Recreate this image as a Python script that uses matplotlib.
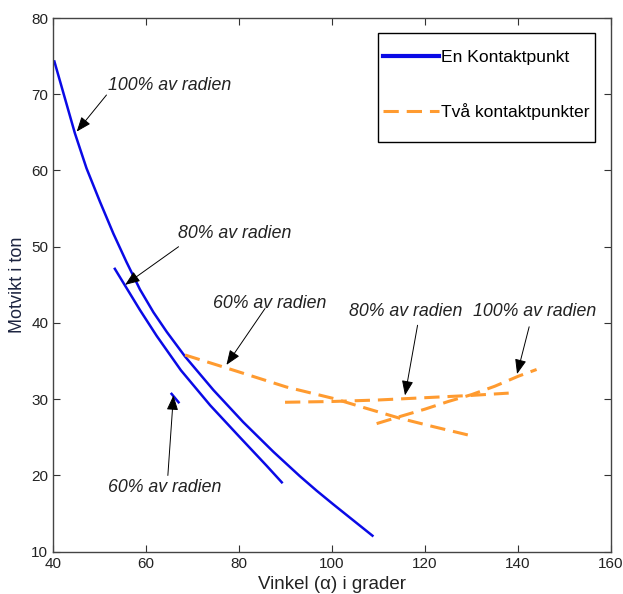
import matplotlib
matplotlib.use("Agg")
import matplotlib.pyplot as plt
from matplotlib.patches import Rectangle

plt.rcParams['font.family'] = ['Liberation Sans', 'DejaVu Sans']

# Counterweight vs angle, one contact point (blue)
one_100_x = [40.3, 44.7, 47.2, 50.1, 53.0, 55.8, 58.7, 61.6, 64.5, 68.4,
             74.5, 80.9, 87.4, 93.1, 96.7, 100.3, 104.6, 108.7]
one_100_y = [74.3, 64.9, 60.3, 55.9, 51.7, 48.0, 44.4, 41.4, 38.8, 35.6,
             31.2, 27.0, 23.1, 19.9, 18.0, 16.2, 14.1, 12.1]
one_80_x = [53.3, 55.5, 58.7, 62.3, 67.5, 73.8, 80.2, 85.9, 89.2]
one_80_y = [47.1, 44.9, 41.7, 38.3, 33.8, 29.2, 25.0, 21.3, 19.1]
one_60_x = [65.5, 67.0]
one_60_y = [30.7, 29.6]

# Counterweight vs angle, two contact points (orange)
two_60_x = [68.4, 77.3, 90.2, 100.3, 107.4, 114.6, 121.8, 130.0]
two_60_y = [35.8, 34.1, 31.6, 30.1, 28.8, 27.5, 26.4, 25.2]
two_80_x = [89.9, 100.0, 110.0, 120.0, 130.0, 138.0]
two_80_y = [29.6, 29.7, 29.9, 30.2, 30.5, 30.8]
two_100_x = [109.6, 115.0, 120.0, 125.0, 130.0, 135.0, 140.0, 144.0]
two_100_y = [26.8, 27.8, 28.7, 29.7, 30.6, 31.7, 33.0, 33.9]

# Annotations: text, arrow tail (data), arrow head (data)
notes = [
    ("100% av radien", (51.5, 69.9), (45.1, 65.1)),
    ("80% av radien", (67.0, 50.0), (55.5, 45.0)),
    ("60% av radien", (85.6, 41.9), (77.3, 34.5)),
    ("60% av radien", (64.7, 20.0), (65.9, 30.5)),
    ("80% av radien", (118.4, 39.7), (115.7, 30.5)),
    ("100% av radien", (142.4, 39.5), (139.8, 33.3)),
]
# Label anchor points in figure pixels (left edge, vertical centre)
text_pos = [
    (108, 86), (178, 233), (213, 304), (108, 488), (349, 311), (473, 311)
]

blue = '#0a0ae6'
orange = '#ff9b30'

W, H = 623, 594
AX_L, AX_R, AX_T, AX_B = 53, 611, 18, 551.7
fig = plt.figure(figsize=(W / 100, H / 100), dpi=100)
ax = fig.add_axes([AX_L / W, 1 - AX_B / H, (AX_R - AX_L) / W, (AX_B - AX_T) / H])


def ax_frac(px, py):
    return (px - AX_L) / (AX_R - AX_L), (AX_B - py) / (AX_B - AX_T)


ax.plot(one_100_x, one_100_y, color=blue, lw=1.8, label='En Kontaktpunkt',
        solid_joinstyle='round')
ax.plot(one_80_x, one_80_y, color=blue, lw=1.8, solid_joinstyle='round')
ax.plot(one_60_x, one_60_y, color=blue, lw=1.8)

dash = (0, (5, 2.6))
ax.plot(two_60_x, two_60_y, color=orange, lw=2.2, ls=dash,
        label='Två kontaktpunkter')
ax.plot(two_80_x, two_80_y, color=orange, lw=2.2, ls=dash)
ax.plot(two_100_x, two_100_y, color=orange, lw=2.2, ls=dash)

for (txt, tail, head), (px, py) in zip(notes, text_pos):
    ax.annotate('', xy=head, xytext=tail,
                arrowprops=dict(arrowstyle='-|>,head_length=0.9,head_width=0.35',
                                color='black', lw=0.7, shrinkA=0, shrinkB=0))
    fig.text(px / W, 1 - py / H, txt, fontsize=12.8, style='italic',
             color='#222222', ha='left', va='center')

ax.set_xlim(40, 160)
ax.set_ylim(10, 80)
ax.set_xticks([40, 60, 80, 100, 120, 140, 160])
ax.set_yticks([10, 20, 30, 40, 50, 60, 70, 80])
ax.tick_params(direction='in', top=True, right=True, labelsize=11,
               length=5, width=0.8, colors='#333333', labelcolor='#222222')
for s in ax.spines.values():
    s.set_color('#444444')
    s.set_linewidth(1.0)

ax.set_xlabel('Vinkel (α) i grader', fontsize=13.5, color='#222222', labelpad=4)
ax.set_ylabel('Motvikt i ton', fontsize=13, color='#1c2440', labelpad=4)

# Legend entries without frame, boxed by a separate rectangle
leg = ax.legend(loc='center left', bbox_to_anchor=ax_frac(383, 85),
                fontsize=12.6, frameon=False, handlelength=3.2,
                handletextpad=0.1, labelspacing=2.2, borderpad=0,
                borderaxespad=0)
leg.get_lines()[0].set_linewidth(3)
x0, y0 = ax_frac(378, 142)
x1, y1 = ax_frac(595, 33)
ax.add_patch(Rectangle((x0, y0), x1 - x0, y1 - y0, transform=ax.transAxes,
                       fill=True, facecolor='white', edgecolor='black',
                       lw=1.0, zorder=4.5))

fig.savefig('out.png', dpi=100)
